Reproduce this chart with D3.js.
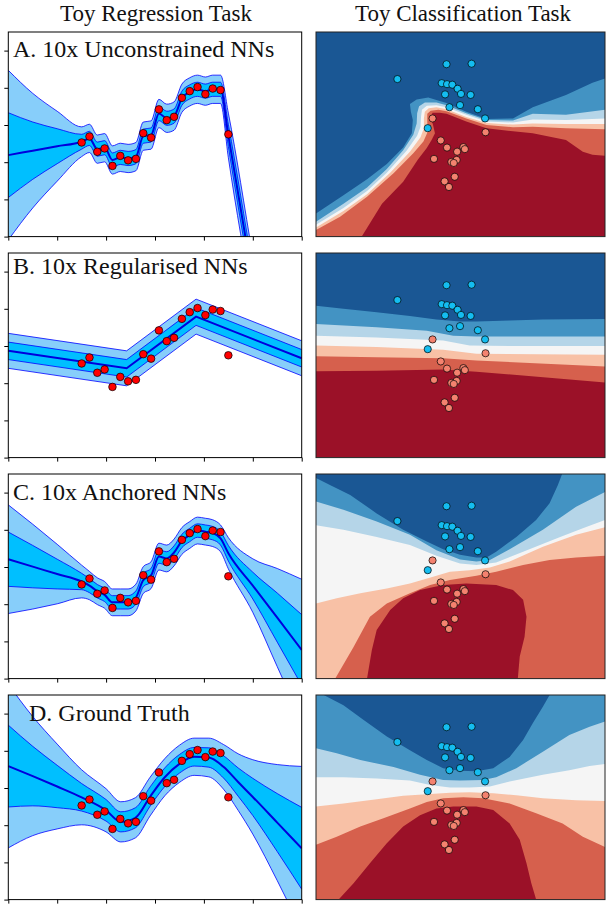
<!DOCTYPE html>
<html>
<head>
<meta charset="utf-8">
<script src="https://cdn.jsdelivr.net/npm/d3@7"></script>
<style>
  body { margin: 0; background: #fff; }
  svg text { font-family: "Liberation Serif", "Times New Roman", serif; fill: #111; }
</style>
</head>
<body>
<svg id="fig" width="606" height="905"></svg>
<script>
// ---- data ----
const columnTitles = ["Toy Regression Task", "Toy Classification Task"];
const panelLabels = ["A. 10x Unconstrained NNs", "B. 10x Regularised NNs", "C. 10x Anchored NNs", "D. Ground Truth"];

const regTicksX = [0, 1, 2, 3, 4, 5, 6];
const regTicksY = [-3, -2, -1, 0, 1, 2];

// training points of the regression task
const regX = [1.50, 1.66, 1.82, 1.97, 2.13, 2.29, 2.45, 2.61, 2.76, 2.92, 3.08, 3.24, 3.39, 3.55, 3.71, 3.87, 4.03, 4.18, 4.34, 4.50];
const regY = [-0.47, -0.31, -0.72, -0.63, -1.10, -0.83, -0.95, -0.91, -0.22, -0.34, 0.42, 0.13, 0.22, 0.73, 0.91, 1.02, 0.83, 0.98, 0.94, -0.25];

// predictive mean / std per panel
const gridA = [0, 0.5, 1.0, 1.5, 1.66, 1.82, 1.97, 2.13, 2.29, 2.45, 2.61, 2.76, 2.92, 3.08, 3.24, 3.39, 3.55, 3.71, 3.87, 4.03, 4.18, 4.34, 4.5, 5.0, 6.0];
const meanA = [-0.81, -0.69, -0.57, -0.45, -0.36, -0.65, -0.61, -0.94, -0.87, -0.90, -0.85, -0.30, -0.27, 0.31, 0.18, 0.24, 0.72, 0.89, 0.96, 0.91, 0.96, 0.96, -0.28, -4.19, -12.0];
const sdA = [1.14, 0.77, 0.47, 0.20, 0.19, 0.19, 0.19, 0.19, 0.19, 0.19, 0.19, 0.19, 0.19, 0.19, 0.19, 0.19, 0.19, 0.19, 0.19, 0.19, 0.19, 0.19, 0.30, 0.33, 0.33];

const gridB = [0, 2.42, 3.84, 6];
const meanB = [-0.13, -0.60, 0.79, -0.33];
const sdB = [0.235, 0.235, 0.235, 0.235];

const gridC = [0, 0.5, 1.0, 1.5, 1.66, 1.82, 1.97, 2.13, 2.29, 2.45, 2.61, 2.76, 2.92, 3.08, 3.24, 3.39, 3.55, 3.71, 3.87, 4.03, 4.18, 4.34, 4.5, 5.0, 5.5, 6.0];
const meanC = [0.21, 0.01, -0.19, -0.39, -0.50, -0.65, -0.75, -0.95, -0.95, -0.95, -0.82, -0.35, -0.22, 0.28, 0.23, 0.39, 0.70, 0.86, 0.98, 0.95, 0.91, 0.77, 0.37, -0.50, -1.36, -2.23];
const sdC = [0.73, 0.57, 0.40, 0.22, 0.19, 0.18, 0.18, 0.18, 0.18, 0.18, 0.18, 0.18, 0.18, 0.18, 0.18, 0.18, 0.18, 0.18, 0.18, 0.18, 0.18, 0.18, 0.21, 0.36, 0.66, 0.95];

const gridD = [0, 0.5, 1.0, 1.5, 2.0, 2.3, 2.6, 2.9, 3.2, 3.5, 3.8, 4.1, 4.4, 4.7, 5.0, 5.5, 6.0];
const meanD = [0.59, 0.32, 0.04, -0.25, -0.60, -0.91, -0.80, -0.23, 0.29, 0.65, 0.84, 0.82, 0.57, 0.16, -0.24, -0.93, -1.62];
const sdD = [1.10, 0.80, 0.57, 0.37, 0.29, 0.27, 0.27, 0.26, 0.25, 0.25, 0.25, 0.26, 0.30, 0.38, 0.50, 0.78, 1.10];

// classification points
const blueX = [-0.29, 0.23, -1.31, -0.39, -0.28, -0.17, -0.06, 0.01, 0.21, -0.32, -0.23, -0.01, 0.36, 0.51, -0.68];
const blueY = [1.37, 1.38, 1.08, 1.00, 0.98, 0.97, 0.89, 0.79, 0.77, 0.78, 0.53, 0.57, 0.49, 0.31, 0.12];
const redX = [-0.58, 0.52, -0.41, -0.28, 0.06, 0.09, -0.07, -0.55, -0.19, -0.08, -0.14, -0.12, -0.33, -0.24];
const redY = [0.31, 0.04, -0.12, -0.26, -0.25, -0.29, -0.34, -0.48, -0.54, -0.50, -0.56, -0.83, -0.92, -1.03];

// contour level colours, dark red (p=0) to dark blue (p=1)
const levelColors = ["#9b1128", "#d6604d", "#f8c1a6", "#f5f5f5", "#b5d5e8", "#4393c3", "#1a5794"];

// level boundaries, lowest first, each traced from the left edge to the right edge
const contourA = [
  [[-3,-2],[-2.05,-2],[-1.63,-1.36],[-1.19,-0.93],[-0.88,-0.49],[-0.70,-0.27],[-0.60,-0.11],[-0.53,0.02],[-0.57,0.18],[-0.62,0.34],[-0.58,0.42],[-0.43,0.42],[-0.29,0.40],[0.12,0.25],[0.54,0.12],[1.09,0.06],[1.50,0.02],[2.19,-0.11],[2.54,-0.34],[2.74,-0.40],[3,-0.42]],
  [[-3,-1.87],[-2.5,-1.61],[-1.94,-1.22],[-1.39,-0.76],[-0.98,-0.37],[-0.77,-0.14],[-0.68,0.05],[-0.69,0.25],[-0.69,0.40],[-0.62,0.46],[-0.46,0.48],[-0.29,0.45],[0.12,0.31],[0.54,0.18],[1.09,0.14],[1.50,0.15],[2.19,0.12],[3,0.10]],
  [[-3,-1.82],[-2.43,-1.50],[-1.94,-1.17],[-1.46,-0.75],[-1.05,-0.34],[-0.83,-0.06],[-0.76,0.12],[-0.76,0.31],[-0.74,0.44],[-0.66,0.51],[-0.50,0.53],[-0.29,0.49],[0.12,0.34],[0.54,0.22],[1.09,0.19],[1.50,0.21],[2.19,0.20],[3,0.20]],
  [[-3,-1.77],[-2.43,-1.44],[-1.94,-1.11],[-1.53,-0.75],[-1.12,-0.32],[-0.90,-0.03],[-0.83,0.15],[-0.82,0.34],[-0.80,0.48],[-0.70,0.56],[-0.50,0.57],[-0.29,0.53],[0.12,0.38],[0.54,0.25],[1.09,0.23],[1.50,0.29],[2.19,0.28],[3,0.31]],
  [[-3,-1.71],[-2.43,-1.36],[-1.94,-1.04],[-1.53,-0.68],[-1.19,-0.31],[-0.98,-0.01],[-0.91,0.21],[-0.90,0.41],[-0.86,0.55],[-0.74,0.62],[-0.50,0.62],[-0.29,0.57],[0.12,0.41],[0.54,0.28],[1.09,0.27],[1.50,0.40],[2.19,0.38],[3,0.48]],
  [[-3,-1.55],[-2.43,-1.19],[-1.94,-0.88],[-1.53,-0.58],[-1.19,-0.26],[-1.01,0.02],[-0.99,0.28],[-1.03,0.44],[-1.05,0.59],[-0.91,0.68],[-0.67,0.72],[-0.50,0.67],[-0.29,0.61],[0.12,0.44],[0.54,0.30],[1.09,0.31],[1.50,0.53],[2.19,0.77],[2.74,1.01],[3,1.09]]
];
const contourB = [
  [[-3,-0.31],[-1.74,-0.30],[-0.36,-0.28],[0.33,-0.32],[3,-0.53]],
  [[-3,-0.02],[-1.74,-0.04],[-0.36,-0.06],[0.33,-0.10],[3,-0.22]],
  [[-3,0.19],[-1.74,0.16],[-0.36,0.11],[0.33,0.03],[3,0.01]],
  [[-3,0.38],[-1.74,0.35],[-0.36,0.29],[0.19,0.19],[1.02,0.18],[3,0.18]],
  [[-3,0.61],[-1.74,0.55],[-0.70,0.48],[-0.15,0.38],[0.33,0.37],[3,0.37]],
  [[-3,0.97],[-2.43,0.91],[-1.74,0.84],[-1.05,0.77],[-0.50,0.70],[-0.01,0.66],[0.33,0.66],[1.02,0.68],[1.71,0.70],[3,0.71]]
];
const contourC = [
  [[-3,-2],[-1.94,-2],[-1.84,-1.44],[-1.74,-1.05],[-1.46,-0.66],[-1.19,-0.43],[-0.84,-0.27],[-0.36,-0.17],[0.12,-0.14],[0.74,-0.17],[1.09,-0.27],[1.30,-0.46],[1.37,-0.79],[1.33,-1.18],[1.23,-1.57],[1.19,-2],[3,-2]],
  [[-3,-2],[-2.60,-2],[-2.22,-1.38],[-1.88,-0.79],[-1.53,-0.53],[-1.05,-0.33],[-0.63,-0.17],[-0.22,-0.07],[0.33,0.01],[0.74,0.09],[1.30,0.22],[1.85,0.32],[2.40,0.37],[3,0.40]],
  [[-3,-0.53],[-2.57,-0.43],[-2.08,-0.33],[-1.53,-0.24],[-1.05,-0.14],[-0.57,-0.01],[-0.22,0.09],[0.19,0.12],[0.61,0.17],[1.02,0.29],[1.71,0.58],[2.40,0.81],[3,0.96]],
  [[-3,1.00],[-2.43,0.91],[-1.74,0.77],[-1.05,0.61],[-0.50,0.40],[-0.01,0.25],[0.33,0.22],[0.74,0.27],[1.30,0.48],[1.99,0.74],[2.54,0.94],[3,1.10]],
  [[-3,1.46],[-2.43,1.30],[-1.74,1.07],[-1.05,0.81],[-0.50,0.51],[-0.01,0.33],[0.33,0.29],[0.61,0.32],[1.02,0.53],[1.71,0.91],[2.40,1.36],[3,1.65]],
  [[-3,1.92],[-2.70,1.78],[-2.29,1.59],[-1.74,1.23],[-1.19,0.91],[-0.70,0.68],[-0.36,0.53],[-0.01,0.42],[0.33,0.37],[0.54,0.37],[0.74,0.48],[1.16,0.77],[1.57,1.10],[1.85,1.43],[2.02,1.78],[2.11,2],[3,2]]
];
const contourD = [
  [[-3,-2],[-2.53,-2],[-2.22,-1.68],[-1.88,-1.29],[-1.53,-0.90],[-1.19,-0.57],[-0.84,-0.35],[-0.50,-0.22],[-0.15,-0.18],[0.33,-0.18],[0.68,-0.25],[1.02,-0.51],[1.23,-0.83],[1.37,-1.29],[1.47,-1.68],[1.57,-2],[3,-2]],
  [[-3,-0.93],[-2.57,-0.77],[-2.08,-0.57],[-1.60,-0.41],[-1.05,-0.22],[-0.70,-0.09],[-0.36,-0.02],[0.06,0.00],[0.47,-0.02],[1.02,-0.12],[1.57,-0.31],[2.12,-0.51],[2.54,-0.77],[3,-0.97]],
  [[-3,-0.18],[-2.43,-0.12],[-1.74,-0.04],[-1.19,0.03],[-0.70,0.06],[-0.22,0.09],[0.19,0.10],[0.68,0.08],[1.16,0.04],[1.71,-0.02],[2.40,-0.06],[3,-0.07]],
  [[-3,0.39],[-2.43,0.39],[-1.74,0.37],[-1.05,0.33],[-0.63,0.24],[-0.22,0.19],[0.19,0.19],[0.61,0.21],[1.02,0.31],[1.71,0.44],[2.26,0.53],[2.68,0.61],[3,0.65]],
  [[-3,0.96],[-2.57,0.86],[-2.08,0.73],[-1.39,0.59],[-0.84,0.44],[-0.36,0.34],[-0.01,0.33],[0.47,0.34],[0.74,0.39],[1.16,0.57],[1.71,0.89],[2.26,1.22],[2.68,1.38],[3,1.48]],
  [[-3,2],[-2.84,2],[-2.43,1.80],[-2.01,1.51],[-1.53,1.19],[-1.05,0.92],[-0.70,0.73],[-0.36,0.57],[-0.01,0.52],[0.33,0.51],[0.68,0.57],[1.02,0.79],[1.30,1.12],[1.50,1.45],[1.71,1.77],[1.85,2],[3,2]]
];

// ---- layout ----
const panelTops = [32, 253, 474, 695];
const panelH = 204.6;
const regLeft = 8.3, regRight = 301.7;
const clsLeft = 316, clsRight = 605;
const labelPos = [[13, 24.7], [13, 21.3], [13, 26], [29, 25.7]];
const serif = '"Liberation Serif", "Times New Roman", serif';

const svg = d3.select("#fig");

svg.append("text").attr("x", 156).attr("y", 20.5).attr("text-anchor", "middle")
    .style("font-family", serif).style("font-size", "23px").text(columnTitles[0]);
svg.append("text").attr("x", 463).attr("y", 20.5).attr("text-anchor", "middle")
    .style("font-family", serif).style("font-size", "23px").text(columnTitles[1]);

// Regression column
const x = d3.scaleLinear().domain([0, 6]).range([regLeft, regRight]);

const regPanels = [
    { grid: gridA, mean: meanA, sd: sdA, curve: d3.curveMonotoneX },
    { grid: gridB, mean: meanB, sd: sdB, curve: d3.curveLinear },
    { grid: gridC, mean: meanC, sd: sdC, curve: d3.curveMonotoneX },
    { grid: gridD, mean: meanD, sd: sdD, curve: d3.curveMonotoneX }
];

regPanels.forEach((p, i) => {
    const top = panelTops[i];
    const y = d3.scaleLinear().domain([-3, 2.5]).range([top + panelH, top]);
    const rows = p.grid.map((g, j) => ({ x: g, m: p.mean[j], s: p.sd[j] }));
    const g = svg.append("g");

    g.append("clipPath").attr("id", "clipReg" + i)
        .append("rect")
        .attr("x", regLeft).attr("y", top)
        .attr("width", regRight - regLeft).attr("height", panelH);

    const plot = g.append("g").attr("clip-path", `url(#clipReg${i})`);

    [2, 1].forEach(k => {
        plot.append("path")
            .datum(rows)
            .attr("d", d3.area()
                .x(d => x(d.x))
                .y0(d => y(d.m - k * d.s))
                .y1(d => y(d.m + k * d.s))
                .curve(p.curve))
            .attr("fill", k === 2 ? "#87cefa" : "#00bfff");
    });

    [-2, -1, 1, 2].forEach(k => {
        plot.append("path")
            .datum(rows)
            .attr("d", d3.line().x(d => x(d.x)).y(d => y(d.m + k * d.s)).curve(p.curve))
            .attr("fill", "none")
            .attr("stroke", "#0000ff")
            .attr("stroke-width", 0.8);
    });

    plot.append("path")
        .datum(rows)
        .attr("d", d3.line().x(d => x(d.x)).y(d => y(d.m)).curve(p.curve))
        .attr("fill", "none")
        .attr("stroke", "#0000dd")
        .attr("stroke-width", 2);

    g.selectAll("circle")
        .data(regX)
        .join("circle")
        .attr("cx", d => x(d))
        .attr("cy", (d, j) => y(regY[j]))
        .attr("r", 3.8)
        .attr("fill", "#ff0000")
        .attr("stroke", "#000")
        .attr("stroke-width", 0.7);

    g.append("rect")
        .attr("x", regLeft).attr("y", top)
        .attr("width", regRight - regLeft).attr("height", panelH)
        .attr("fill", "none").attr("stroke", "#000").attr("stroke-width", 1);

    g.append("g")
        .attr("transform", `translate(${regLeft},0)`)
        .call(d3.axisLeft(y).tickValues(regTicksY).tickSize(4).tickFormat(""))
        .call(a => a.select(".domain").remove());

    g.append("g")
        .attr("transform", `translate(0,${top + panelH})`)
        .call(d3.axisBottom(x).tickValues(regTicksX).tickSize(4).tickFormat(""))
        .call(a => a.select(".domain").remove());

    g.append("text")
        .attr("x", labelPos[i][0])
        .attr("y", top + labelPos[i][1])
        .style("font-family", serif)
        .style("font-size", "24px")
        .text(panelLabels[i]);
});

// Classification column
const cx = d3.scaleLinear().domain([-3, 3]).range([clsLeft, clsRight]);
const contours = [contourA, contourB, contourC, contourD];

contours.forEach((bounds, i) => {
    const top = panelTops[i];
    const cy = d3.scaleLinear().domain([-2, 2]).range([top + panelH, top]);
    const g = svg.append("g");

    g.append("clipPath").attr("id", "clipCls" + i)
        .append("rect")
        .attr("x", clsLeft).attr("y", top)
        .attr("width", clsRight - clsLeft).attr("height", panelH);

    const plot = g.append("g").attr("clip-path", `url(#clipCls${i})`);

    plot.append("rect")
        .attr("x", clsLeft).attr("y", top)
        .attr("width", clsRight - clsLeft).attr("height", panelH)
        .attr("fill", levelColors[0]);

    const line = d3.line().x(d => cx(d[0])).y(d => cy(d[1]));

    // every level is painted as "the area above its lower boundary"
    bounds.forEach((b, k) => {
        plot.append("path")
            .attr("d", line(b.concat([[3, 2], [-3, 2]])) + "Z")
            .attr("fill", levelColors[k + 1]);
    });

    g.append("g").selectAll("circle")
        .data(blueX)
        .join("circle")
        .attr("cx", d => cx(d))
        .attr("cy", (d, j) => cy(blueY[j]))
        .attr("r", 3.6)
        .attr("fill", "#14bdf0")
        .attr("stroke", "#000")
        .attr("stroke-width", 0.7);

    g.append("g").selectAll("circle")
        .data(redX)
        .join("circle")
        .attr("cx", d => cx(d))
        .attr("cy", (d, j) => cy(redY[j]))
        .attr("r", 3.6)
        .attr("fill", "#f4826f")
        .attr("stroke", "#000")
        .attr("stroke-width", 0.7);

    g.append("rect")
        .attr("x", clsLeft).attr("y", top)
        .attr("width", clsRight - clsLeft).attr("height", panelH)
        .attr("fill", "none").attr("stroke", "#222").attr("stroke-width", 1);
});
</script>
</body>
</html>
